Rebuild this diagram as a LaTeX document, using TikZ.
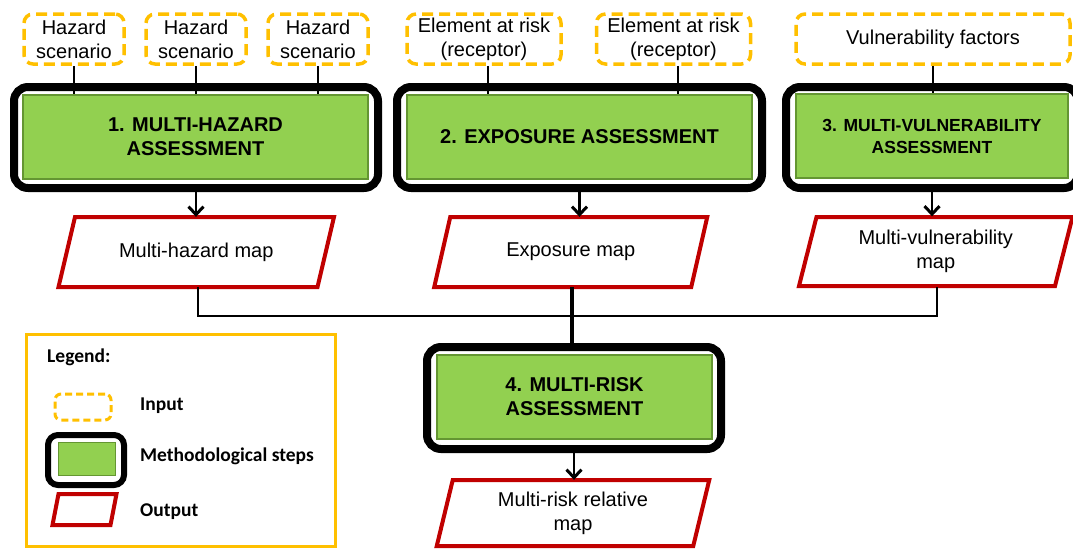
\documentclass[tikz,border=0pt]{standalone}
\usepackage{fontspec}
\setmainfont{Liberation Sans}
\newfontfamily\legfont{Carlito}
\usetikzlibrary{arrows.meta,calc}
\definecolor{inorange}{RGB}{255,192,0}
\definecolor{outred}{RGB}{192,0,0}
\definecolor{stepgreen}{RGB}{146,208,80}
\definecolor{stepedge}{RGB}{100,150,50}
\newcommand\parashape[4]{%
  \draw[outline] ([shift={(-#2+#4,-#3)}]#1.center) -- ([shift={(#2+#4,-#3)}]#1.center)
    -- ([shift={(#2-#4,#3)}]#1.center) -- ([shift={(-#2-#4,#3)}]#1.center) -- cycle;}
\begin{document}
\begin{tikzpicture}[x=1pt,y=-1pt,
  inbox/.style={draw=inorange, line width=3.5pt, dash pattern=on 11pt off 6pt, rounded corners=9pt,
    align=center, font=\fontsize{20}{24}\selectfont, inner sep=0pt, minimum height=50pt, fill=white},
  stepouter/.style={draw=black, line width=8pt, rounded corners=14pt, fill=white, inner sep=0pt},
  stepbox/.style={fill=stepgreen, draw=stepedge, line width=2pt, align=center,
    font=\bfseries\fontsize{20}{24}\selectfont, inner sep=0pt, minimum height=84pt},
  outtext/.style={align=center, font=\fontsize{20}{24}\selectfont, inner sep=0pt,
    minimum height=70pt, minimum width=10pt},
  outline/.style={draw=outred, line width=4pt, line join=miter},
  link/.style={draw=black, line width=2pt},
  arrow/.style={draw=black, line width=2.5pt, -{Straight Barb[length=8pt,width=15pt,line width=3pt]}},
  legtext/.style={font=\legfont\bfseries\fontsize{19.5}{23}\selectfont, anchor=west, inner sep=0pt}
]
\useasboundingbox[fill=white] (0,0) rectangle (1073,549);

% inputs
\node[inbox, minimum width=100pt] (h1) at (74,39) {Hazard\\scenario};
\node[inbox, minimum width=100pt] (h2) at (196,39) {Hazard\\scenario};
\node[inbox, minimum width=100pt] (h3) at (318,39) {Hazard\\scenario};
\node[inbox, minimum width=154pt] (e1) at (484,39) {Element at risk\\(receptor)};
\node[inbox, minimum width=154pt] (e2) at (673.5,39) {Element at risk\\(receptor)};
\node[inbox, minimum width=274pt] (v) at (933,39) {Vulnerability factors};

% steps
\node[stepouter, minimum width=364pt, minimum height=101pt] (s1o) at (196,137.5) {};
\node[stepbox, minimum width=345pt] (s1) at (195.5,137) {1. MULTI-HAZARD\\ASSESSMENT};
\node[stepouter, minimum width=365pt, minimum height=101pt] (s2o) at (579.5,137.5) {};
\node[stepbox, minimum width=345pt] (s2) at (579.5,137) {2. EXPOSURE ASSESSMENT};
\node[stepouter, minimum width=292pt, minimum height=101pt] (s3o) at (932,137.5) {};
\node[stepbox, minimum width=272pt, font=\bfseries\fontsize{17.5}{22}\selectfont] (s3) at (932,136) {3. MULTI-VULNERABILITY\\ASSESSMENT};
\node[stepouter, minimum width=294pt, minimum height=102pt] (s4o) at (574,398) {};
\node[stepbox, minimum width=275pt] (s4) at (574.5,397) {4. MULTI-RISK\\ASSESSMENT};

% outputs
\node[outtext] (o1) at (196.25,252) {Multi-hazard map};
\parashape{o1}{129.5}{35}{8.25}
\node[outtext] (o2) at (570.75,252) {Exposure map};
\parashape{o2}{128.5}{35}{8}
\node[outtext] (o3) at (935.75,251.5) {Multi-vulnerability\\map};
\parashape{o3}{128}{34.5}{8.75}
\node[outtext, minimum height=66pt] (o4) at (573,513) {Multi-risk relative\\map};
\parashape{o4}{128.25}{33}{8}

% connectors inputs -> steps
\draw[link] (h1.south) -- (h1.south |- s1.north);
\draw[link] (h2.south) -- (h2.south |- s1.north);
\draw[link] (h3.south) -- (h3.south |- s1.north);
\draw[link] ([xshift=4pt]e1.south) -- ([xshift=4pt]e1.south |- s2.north);
\draw[link] ([xshift=4pt]e2.south) -- ([xshift=4pt]e2.south |- s2.north);
\draw[link] (v.south) -- (v.south |- s3.north);

% steps -> outputs
\draw[arrow] (s1o.south) -- (s1o.south |- o1.north);
\draw[arrow] (s2o.south) -- (s2o.south |- o2.north);
\draw[arrow] (s3o.south) -- (s3o.south |- o3.north);

% outputs -> step 4
\draw[link] ([xshift=1.75pt]o1.south) -- ++(0,29) -| ([xshift=1.25pt]o3.south);
\draw[draw=black, line width=4pt] ([xshift=1.25pt]o2.south) -- ([xshift=1.25pt]o2.south |- s4o.north);
\draw[arrow] (s4o.south) -- (s4o.south |- o4.north);

% legend
\node[draw=inorange, line width=3pt, minimum width=309pt, minimum height=212pt, inner sep=0pt] (leg) at (181,440.5) {};
\node[legtext] (lt) at (47,357) {Legend:};
\node[inbox, minimum width=56pt, minimum height=26pt, rounded corners=6pt, dash pattern=on 7pt off 4pt, line width=3pt] (li) at (83,407) {};
\node[legtext] (lti) at (140,406) {Input};
\node[stepouter, line width=6pt, rounded corners=10pt, minimum width=76pt, minimum height=50pt] (lmo) at (86,460) {};
\node[stepbox, line width=1pt, minimum width=57pt, minimum height=33pt] (lm) at (86.5,458.5) {};
\node[legtext] (ltm) at (140,456) {Methodological steps};
\node[inner sep=0pt, minimum width=58pt, minimum height=31pt] (lo) at (84.5,509.5) {};
\parashape{lo}{29}{15.5}{3}
\node[legtext] (lto) at (140,512) {Output};
\end{tikzpicture}
\end{document}
